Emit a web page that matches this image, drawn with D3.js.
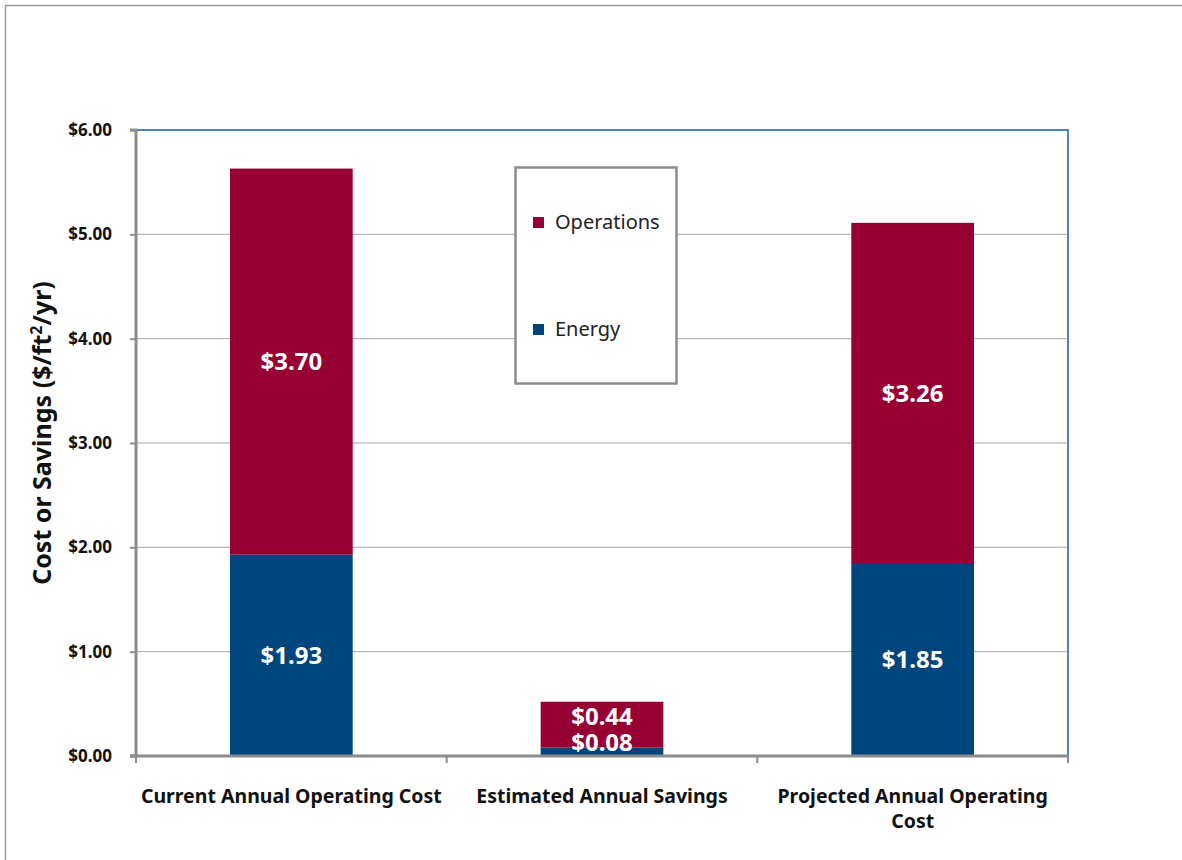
<!DOCTYPE html>
<html><head><meta charset="utf-8">
<script src="https://cdn.jsdelivr.net/npm/d3@7"></script>
<style>body{margin:0;background:#fff}svg{display:block}text{font-family:"Noto Sans","Open Sans",sans-serif}</style>
</head><body>
<svg id="c" width="1182" height="860"></svg>
<script>
const categories = ["Current Annual Operating Cost", "Estimated Annual Savings", "Projected Annual Operating Cost"];
const energy = [1.93, 0.08, 1.85];
const operations = [3.70, 0.44, 3.26];
const yTicks = [0, 1, 2, 3, 4, 5, 6];
const seriesNames = ["Operations", "Energy"];
const colors = {Energy: "#00467E", Operations: "#960032"};

const svg = d3.select("#c");
const M = {l: 136, r: 1068, t: 130, b: 756};

// outer frame
svg.append("line").attr("x1",5).attr("x2",1182).attr("y1",5.5).attr("y2",5.5).attr("stroke","#9a9a9a").attr("stroke-width",1.5);
svg.append("line").attr("x1",5.5).attr("x2",5.5).attr("y1",5).attr("y2",860).attr("stroke","#9a9a9a").attr("stroke-width",1.5);

const x = d3.scaleBand().domain(categories).range([M.l, M.r]).paddingInner(0).paddingOuter(0);
const y = d3.scaleLinear().domain([0, 6]).range([M.b, M.t]);
const bw = x.bandwidth() * 0.395;

// gridlines
svg.append("g").selectAll("line").data(yTicks.filter(d => d > 0 && d < 6)).join("line")
  .attr("x1", M.l).attr("x2", M.r).attr("y1", d => y(d)).attr("y2", d => y(d))
  .attr("stroke", "#a6a6a6").attr("stroke-width", 1);
// plot border top/right (blue)
svg.append("path").attr("d", `M${M.l},${y(6)}H${M.r}V${M.b}`).attr("fill","none").attr("stroke","#4F81BD").attr("stroke-width",2);

// stacked data
const rows = categories.map((c, i) => ({cat: c, Energy: energy[i], Operations: operations[i]}));
const stack = d3.stack().keys(["Energy", "Operations"])(rows);
svg.append("g").selectAll("g").data(stack).join("g").attr("fill", s => colors[s.key])
  .selectAll("rect").data(s => s).join("rect")
  .attr("x", d => x(d.data.cat) + (x.bandwidth() - bw) / 2)
  .attr("width", bw)
  .attr("y", d => y(d[1]))
  .attr("height", d => y(d[0]) - y(d[1]));

// value labels
const fmt = v => "$" + v.toFixed(2);
rows.forEach(r => {
  const cx = x(r.cat) + x.bandwidth() / 2;
  let eY = Math.min(y(r.Energy / 2), y(0) - 14);
  let oY = Math.min(y(r.Energy + r.Operations / 2), eY - 26);
  [[r.Energy, eY], [r.Operations, oY]].forEach(([v, yy]) => {
    svg.append("text").attr("x", cx).attr("y", yy).attr("dy", "0.36em").attr("text-anchor", "middle")
      .attr("fill", "#fff").attr("font-weight", "bold").attr("font-size", 24).text(fmt(v));
  });
});

// y axis
const yAxis = svg.append("g").attr("transform", `translate(${M.l},0)`)
  .call(d3.axisLeft(y).tickValues(yTicks).tickFormat(d => "$" + d.toFixed(2)).tickSize(6).tickPadding(18));
yAxis.select(".domain").attr("stroke", "#8c8c8c").attr("stroke-width", 3).attr("d", `M-6,${M.t}H0V${M.b}H-6`);
yAxis.selectAll(".tick line").attr("stroke", "#8c8c8c").attr("stroke-width", 2);
yAxis.selectAll(".tick text").attr("font-size", 17).attr("font-weight", "bold").attr("fill", "#111")
  .style("font-family", '"Noto Sans", sans-serif');

// x axis
const xAxis = svg.append("g").attr("transform", `translate(0,${M.b})`);
xAxis.append("line").attr("x1", M.l - 6).attr("x2", M.r + 1).attr("y1", 0).attr("y2", 0).attr("stroke", "#8c8c8c").attr("stroke-width", 3);
const bounds = categories.map(c => x(c)).concat([M.r]);
xAxis.selectAll("line.tk").data(bounds).join("line").attr("class","tk")
  .attr("x1", d => d).attr("x2", d => d).attr("y1", 0).attr("y2", 7).attr("stroke", "#8c8c8c").attr("stroke-width", 2);
const xLines = [["Current Annual Operating Cost"], ["Estimated Annual Savings"], ["Projected Annual Operating", "Cost"]];
categories.forEach((c, i) => {
  const t = svg.append("text").attr("text-anchor", "middle").attr("font-size", 19.5).attr("font-weight", "bold").attr("fill", "#111")
    .attr("x", x(c) + x.bandwidth() / 2).attr("y", 803);
  xLines[i].forEach((ln, j) => t.append("tspan").attr("x", x(c) + x.bandwidth() / 2).attr("dy", j ? 25 : 0).text(ln));
});

// y axis title
const yt = svg.append("text").attr("transform", `translate(51,${433}) rotate(-90)`)
  .attr("text-anchor", "middle").attr("font-size", 25).attr("font-weight", "bold").attr("fill", "#111");
yt.append("tspan").text("Cost or Savings ($/ft");
yt.append("tspan").attr("font-size", 16).attr("dy", -9).text("2");
yt.append("tspan").attr("dy", 9).text("/yr)");

// legend
const lg = svg.append("g");
lg.append("rect").attr("x", 515.5).attr("y", 167.5).attr("width", 161).attr("height", 216)
  .attr("fill", "#fff").attr("stroke", "#8c8c8c").attr("stroke-width", 2.5);
const legY = {Operations: 222, Energy: 329};
seriesNames.forEach(n => {
  lg.append("rect").attr("x", 533).attr("y", legY[n] - 5).attr("width", 11).attr("height", 11).attr("fill", colors[n]);
  lg.append("text").attr("x", 555).attr("y", legY[n]).attr("dy", "0.35em").attr("font-size", 20).attr("fill", "#222").text(n);
});
</script>
</body></html>
